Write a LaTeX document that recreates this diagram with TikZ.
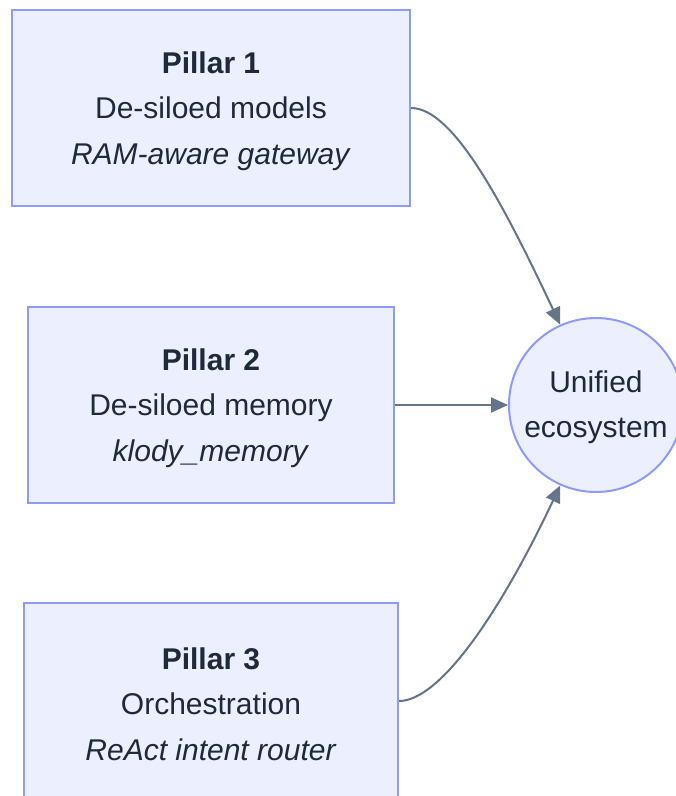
\documentclass[tikz,border=0pt]{standalone}
\usepackage{fontspec}
\setmainfont{Liberation Sans}
\usetikzlibrary{arrows.meta}
\definecolor{boxfill}{RGB}{236,240,254}
\definecolor{boxline}{RGB}{143,155,250}
\definecolor{edgecol}{RGB}{100,116,139}
\definecolor{inkcol}{RGB}{30,41,59}
\begin{document}
\begin{tikzpicture}[x=1pt,y=-1pt,
  pillar/.style={draw=boxline, fill=boxfill, line width=2pt, inner sep=0pt,
    minimum height=196pt},
  hub/.style={circle, draw=boxline, fill=boxfill, line width=2pt,
    inner sep=0pt, minimum size=174pt},
  caption/.style={text=inkcol, align=center, inner sep=0pt,
    font=\fontsize{30}{45.5}\selectfont},
  flow/.style={draw=edgecol, line width=2pt,
    -{Triangle[length=17pt,width=15pt]}}]
\useasboundingbox (0,0) rectangle (676,796);
\fill[white] (0,0) rectangle (676,796);

% the three pillar boxes and the hub
\node[pillar, minimum width=398pt] (p1) at (211,108) {};
\node[pillar, minimum width=366pt] (p2) at (211,405) {};
\node[pillar, minimum width=374pt] (p3) at (211,701) {};
\node[hub] (eco) at (596,405) {};

% their texts
\node[caption] (t1) at ([yshift=-3pt]p1.center)
  {\textbf{Pillar 1}\\De-siloed models\\\textit{RAM-aware gateway}};
\node[caption] (t2) at ([yshift=-3pt]p2.center)
  {\textbf{Pillar 2}\\De-siloed memory\\\textit{klody\_memory}};
\node[caption] (t3) at ([yshift=-3pt]p3.center)
  {\textbf{Pillar 3}\\Orchestration\\\textit{ReAct intent router}};
\node[caption] (te) at ([yshift=-2pt]eco.center) {Unified\\ecosystem};

% connectors
\draw[flow] (p1.east) .. controls +(42,0) and +(-58,-123) .. (eco.114);
\draw[flow] (p2.east) -- (eco.west);
\draw[flow] (p3.east) .. controls +(42,0) and +(-58,123) .. (eco.246);
\end{tikzpicture}
\end{document}
